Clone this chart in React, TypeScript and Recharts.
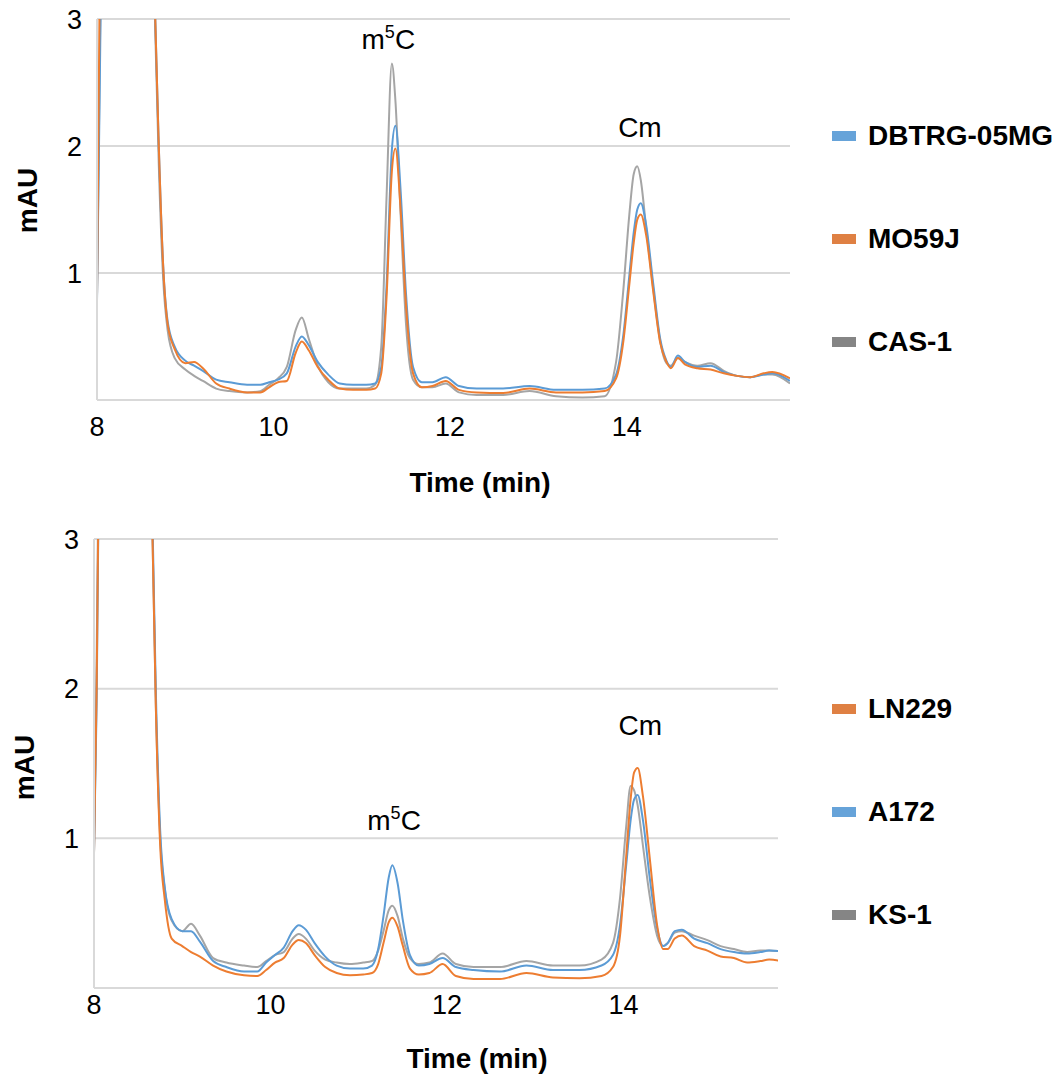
import React from 'react';
import { LineChart, Line, XAxis, YAxis, CartesianGrid, Legend, ReferenceDot } from 'recharts';

// retention time (min), shared by both chromatograms
const times = [
  8.0, 8.03, 8.1, 8.3, 8.5, 8.62, 8.66, 8.7, 8.75, 8.8, 8.88, 9.0, 9.1, 9.2, 9.35, 9.5, 9.7, 9.85, 9.95,
  10.05, 10.15, 10.25, 10.32, 10.4, 10.5, 10.62, 10.75, 10.9, 11.05, 11.15, 11.22, 11.28, 11.34, 11.38,
  11.44, 11.5, 11.58, 11.68, 11.8, 11.95, 12.1, 12.3, 12.6, 12.9, 13.2, 13.5, 13.75, 13.88, 13.96, 14.03,
  14.08, 14.12, 14.16, 14.22, 14.3, 14.38, 14.45, 14.5, 14.58, 14.66, 14.8, 14.95, 15.1, 15.25, 15.4,
  15.55, 15.65, 15.85,
];

// top panel
const cas1 = [
  0.8, 2.6, 6, 8, 8, 4.2, 2.9, 1.85, 0.95, 0.55, 0.33, 0.24, 0.19, 0.15, 0.09, 0.07, 0.06, 0.07, 0.12,
  0.17, 0.26, 0.55, 0.65, 0.48, 0.27, 0.14, 0.09, 0.09, 0.09, 0.12, 0.42, 1.6, 2.65, 2.36,
  1.45, 0.6, 0.16, 0.1, 0.1, 0.13, 0.06, 0.04, 0.04, 0.07, 0.03, 0.02, 0.03, 0.3, 0.85, 1.46,
  1.78, 1.84, 1.73, 1.36, 0.88, 0.46, 0.29, 0.27, 0.33, 0.3, 0.27, 0.29, 0.23, 0.19, 0.18,
  0.2, 0.2, 0.13,
];
const dbtrg = [
  0.78, 2.4, 6, 8, 8, 4.5, 3.0, 2.0, 1.05, 0.62, 0.42, 0.31, 0.27, 0.23, 0.16, 0.14, 0.12, 0.12, 0.14,
  0.16, 0.21, 0.42, 0.5, 0.43, 0.3, 0.2, 0.13, 0.12, 0.12, 0.13, 0.26, 0.9, 1.97, 2.16,
  1.64, 0.84, 0.26, 0.14, 0.14, 0.18, 0.11, 0.09, 0.09, 0.11, 0.08, 0.08, 0.09, 0.2, 0.5, 0.98,
  1.32, 1.5, 1.55, 1.38, 0.92, 0.48, 0.31, 0.26, 0.35, 0.3, 0.26, 0.27, 0.22, 0.19, 0.18,
  0.2, 0.21, 0.15,
];
const mo59j = [
  0.81, 3.2, 6, 8, 8, 4.5, 3.0, 2.0, 1.05, 0.6, 0.4, 0.29, 0.3, 0.25, 0.13, 0.09, 0.06, 0.06, 0.1,
  0.14, 0.15, 0.37, 0.46, 0.39, 0.26, 0.16, 0.09, 0.08, 0.08, 0.09, 0.21, 0.81, 1.8, 1.98,
  1.49, 0.75, 0.21, 0.1, 0.11, 0.15, 0.08, 0.06, 0.055, 0.09, 0.06, 0.06, 0.07, 0.17, 0.45, 0.91,
  1.24, 1.42, 1.46, 1.3, 0.86, 0.45, 0.3, 0.25, 0.33, 0.28, 0.25, 0.24, 0.21, 0.19, 0.18,
  0.21, 0.22, 0.17,
];

// bottom panel
const ks1 = [
  0.9, 2.2, 6, 8, 8, 4.5, 3.1, 1.9, 1.0, 0.67, 0.45, 0.38, 0.43, 0.35, 0.2, 0.17, 0.15, 0.14, 0.18,
  0.22, 0.24, 0.33, 0.36, 0.33, 0.25, 0.19, 0.17, 0.16, 0.17, 0.18, 0.25, 0.38, 0.52, 0.55,
  0.48, 0.33, 0.2, 0.16, 0.17, 0.23, 0.16, 0.14, 0.14, 0.18, 0.15, 0.15, 0.19, 0.3, 0.6, 1.08,
  1.35, 1.32, 1.22, 0.95, 0.6, 0.35, 0.28, 0.3, 0.37, 0.38, 0.35, 0.32, 0.28, 0.26, 0.24,
  0.25, 0.25, 0.24,
];
const a172 = [
  0.9, 1.9, 6, 8, 8, 4.6, 3.2, 2.0, 1.05, 0.68, 0.46, 0.38, 0.38, 0.31, 0.18, 0.14, 0.11, 0.11, 0.17,
  0.22, 0.27, 0.38, 0.42, 0.39, 0.3, 0.21, 0.15, 0.13, 0.13, 0.15, 0.26, 0.48, 0.74, 0.82,
  0.7, 0.45, 0.22, 0.15, 0.16, 0.2, 0.14, 0.12, 0.11, 0.15, 0.12, 0.12, 0.15, 0.22, 0.42, 0.82,
  1.12, 1.26, 1.29, 1.12, 0.72, 0.4, 0.28, 0.3, 0.38, 0.39, 0.33, 0.3, 0.26, 0.24, 0.23,
  0.24, 0.25, 0.24,
];
const ln229 = [
  0.9, 2.0, 6, 8, 8, 4.5, 3.1, 1.9, 0.95, 0.6, 0.33, 0.28, 0.24, 0.21, 0.15, 0.11, 0.085, 0.08, 0.12,
  0.17, 0.2, 0.29, 0.32, 0.3, 0.22, 0.14, 0.1, 0.085, 0.09, 0.1, 0.16, 0.3, 0.44, 0.47,
  0.41, 0.28, 0.13, 0.09, 0.1, 0.16, 0.08, 0.06, 0.06, 0.1, 0.07, 0.065, 0.08, 0.14, 0.35, 0.88,
  1.26, 1.44, 1.47, 1.28, 0.85, 0.42, 0.26, 0.26, 0.33, 0.35, 0.28, 0.25, 0.21, 0.2, 0.17,
  0.18, 0.19, 0.17,
];

const xTicks = [8, 10, 12, 14];
const yTicks = [1, 2, 3];

const topPeaks = [
  { text: 'm', sup: '5', tail: 'C', t: 11.3, v: 2.76 },
  { text: 'Cm', sup: '', tail: '', t: 14.15, v: 2.07 },
];
const bottomPeaks = [
  { text: 'm', sup: '5', tail: 'C', t: 11.4, v: 1.055 },
  { text: 'Cm', sup: '', tail: '', t: 14.19, v: 1.69 },
];

const FONT = '"Liberation Sans", Arial, Helvetica, sans-serif';
const BLUE = '#5B9BD5';
const ORANGE = '#ED7D31';
const GRAY = '#A5A5A5';
const GRID = '#D9D9D9';

type Series = { key: string; name: string; color: string; swatch: string; values: number[] };
type Peak = { text: string; sup: string; tail: string; t: number; v: number };

const topSeries: Series[] = [
  { key: 'cas1', name: 'CAS-1', color: GRAY, swatch: '#858585', values: cas1 },
  { key: 'dbtrg', name: 'DBTRG-05MG', color: BLUE, swatch: '#66A3D9', values: dbtrg },
  { key: 'mo59j', name: 'MO59J', color: ORANGE, swatch: '#DF8043', values: mo59j },
];
const topLegend = ['dbtrg', 'mo59j', 'cas1'];

const bottomSeries: Series[] = [
  { key: 'ks1', name: 'KS-1', color: GRAY, swatch: '#858585', values: ks1 },
  { key: 'a172', name: 'A172', color: BLUE, swatch: '#66A3D9', values: a172 },
  { key: 'ln229', name: 'LN229', color: ORANGE, swatch: '#DF8043', values: ln229 },
];
const bottomLegend = ['ln229', 'a172', 'ks1'];

function buildRows(series: Series[]) {
  return times.map((t, i) => {
    const row: Record<string, number> = { t };
    series.forEach((s) => {
      row[s.key] = s.values[i];
    });
    return row;
  });
}

interface PanelProps {
  series: Series[];
  legendOrder: string[];
  peaks: Peak[];
  top: number;
  height: number;
  marginLeft: number;
  marginRight: number;
  xMax: number;
  xAxisHeight: number;
  xTickMargin: number;
  titleX: number;
  titleDy: number;
  mauDy: number;
  legendTop: number;
}

function Panel(p: PanelProps) {
  const data = buildRows(p.series);
  const legendItems = p.legendOrder.map((k) => p.series.find((s) => s.key === k)!);

  return (
    <div style={{ position: 'absolute', left: 0, top: p.top }}>
      <LineChart
        width={1061}
        height={p.height}
        data={data}
        margin={{ top: 19, right: p.marginRight, bottom: 0, left: p.marginLeft }}
      >
        <CartesianGrid vertical={false} stroke={GRID} strokeWidth={2} />
        <XAxis
          dataKey="t"
          type="number"
          domain={[8, p.xMax]}
          allowDataOverflow
          ticks={xTicks}
          height={p.xAxisHeight}
          tickLine={false}
          tickSize={0}
          tickMargin={p.xTickMargin}
          axisLine={{ stroke: GRID, strokeWidth: 2 }}
          tick={{ fontSize: 27, fill: '#000', fontFamily: FONT }}
          label={{
            content: ({ viewBox }: any) => (
              <text
                x={p.titleX}
                y={viewBox.y + p.titleDy}
                textAnchor="middle"
                fontSize={28}
                fontWeight="bold"
                fontFamily={FONT}
                fill="#000"
              >
                Time (min)
              </text>
            ),
          }}
        />
        <YAxis
          type="number"
          domain={[0, 3]}
          allowDataOverflow
          ticks={yTicks}
          width={87}
          tickLine={false}
          tickSize={0}
          tickMargin={15}
          axisLine={{ stroke: GRID, strokeWidth: 2 }}
          tick={{ fontSize: 27, fill: '#000', fontFamily: FONT }}
          label={{
            content: ({ viewBox }: any) => {
              const cx = viewBox.x + 17;
              const cy = viewBox.y + viewBox.height / 2 + p.mauDy;
              return (
                <text
                  x={cx}
                  y={cy}
                  transform={`rotate(-90 ${cx} ${cy})`}
                  textAnchor="middle"
                  dominantBaseline="central"
                  fontSize={28}
                  fontWeight="bold"
                  fontFamily={FONT}
                  fill="#000"
                >
                  mAU
                </text>
              );
            },
          }}
        />
        {p.series.map((s) => (
          <Line
            key={s.key}
            dataKey={s.key}
            name={s.name}
            type="monotone"
            stroke={s.color}
            strokeWidth={2}
            dot={false}
            activeDot={false}
            isAnimationActive={false}
          />
        ))}
        {p.peaks.map((pk) => (
          <ReferenceDot
            key={pk.text + pk.t}
            x={pk.t}
            y={pk.v}
            r={0}
            fill="none"
            stroke="none"
            label={{
              content: ({ viewBox }: any) => (
                <text
                  x={viewBox.x + viewBox.width / 2}
                  y={viewBox.y + viewBox.height / 2}
                  textAnchor="middle"
                  fontSize={28}
                  fontFamily={FONT}
                  fill="#000"
                >
                  <tspan>{pk.text}</tspan>
                  {pk.sup && (
                    <tspan dy={-11} fontSize={18}>
                      {pk.sup}
                    </tspan>
                  )}
                  {pk.tail && <tspan dy={11}>{pk.tail}</tspan>}
                </text>
              ),
            }}
          />
        ))}
        <Legend
          layout="vertical"
          align="center"
          verticalAlign="middle"
          wrapperStyle={{ left: 832, top: p.legendTop, width: 229 }}
          content={() => (
            <div style={{ fontFamily: FONT }}>
              {legendItems.map((s) => (
                <div key={s.key} style={{ height: 103, display: 'flex', alignItems: 'center' }}>
                  <span
                    style={{ display: 'inline-block', width: 24, height: 10, background: s.swatch, marginRight: 12 }}
                  />
                  <span style={{ fontSize: 28, fontWeight: 'bold', color: '#000', whiteSpace: 'nowrap' }}>
                    {s.name}
                  </span>
                </div>
              ))}
            </div>
          )}
        />
      </LineChart>
    </div>
  );
}

export default function App() {
  return (
    <div
      style={{
        position: 'absolute',
        left: 0,
        top: 0,
        width: 1061,
        height: 1077,
        background: '#fff',
        fontFamily: FONT,
        overflow: 'hidden',
      }}
    >
      <Panel
        series={topSeries}
        legendOrder={topLegend}
        peaks={topPeaks}
        top={0}
        height={500}
        marginLeft={10}
        marginRight={271}
        xMax={15.85}
        xAxisHeight={100}
        xTickMargin={17}
        titleX={480}
        titleDy={92}
        mauDy={-9}
        legendTop={84}
      />
      <Panel
        series={bottomSeries}
        legendOrder={bottomLegend}
        peaks={bottomPeaks}
        top={520}
        height={557}
        marginLeft={7}
        marginRight={283}
        xMax={15.75}
        xAxisHeight={89}
        xTickMargin={7}
        titleX={477}
        titleDy={80}
        mauDy={4}
        legendTop={137}
      />
    </div>
  );
}
